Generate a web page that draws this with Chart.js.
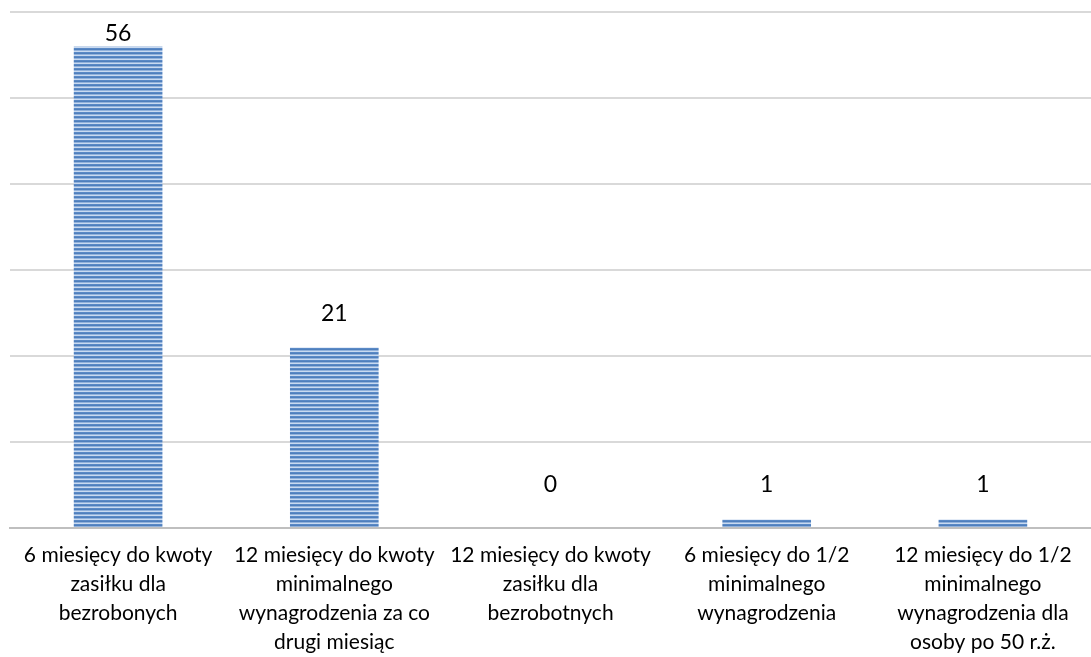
<!DOCTYPE html>
<html>
<head>
<meta charset="utf-8">
<script src="https://cdn.jsdelivr.net/npm/chart.js@4/dist/chart.umd.min.js"></script>
<style>
  html, body { margin: 0; padding: 0; background: #fff; }
  #wrap { width: 1091px; height: 657px; }
</style>
</head>
<body>
<div id="wrap"><canvas id="grafica"></canvas></div>
<script>
// categorias (etiquetas partidas en lineas como en el original)
const kategorie = [
  ["6 miesięcy do kwoty", "zasiłku dla", "bezrobonych"],
  ["12 miesięcy do kwoty", "minimalnego", "wynagrodzenia za co", "drugi miesiąc"],
  ["12 miesięcy do kwoty", "zasiłku dla", "bezrobotnych"],
  ["6 miesięcy do 1/2", "minimalnego", "wynagrodzenia"],
  ["12 miesięcy do 1/2", "minimalnego", "wynagrodzenia dla", "osoby po 50 r.ż."]
];
const wartosci = [56, 21, 0, 1, 1];
const osY = { min: 0, max: 60, step: 10 };

// desplazamiento vertical de cada etiqueta de dato (px sobre la barra)
const offsetEtiquetas = [13, 34, 43, 35, 35];

// patron de rayas horizontales para las barras
function rayas() {
  const c = document.createElement("canvas");
  c.width = 4;
  c.height = 4;
  const g = c.getContext("2d");
  const colores = ["#5a89c6", "#4f7fbc", "#92b2dc", "#c9daf0"];
  colores.forEach((col, i) => {
    g.fillStyle = col;
    g.fillRect(0, i, 4, 1);
  });
  return g.createPattern(c, "repeat");
}

const ctx = document.getElementById("grafica").getContext("2d");

const etiquetasPlugin = {
  id: "etiquetas",
  afterDatasetsDraw(chart) {
    const meta = chart.getDatasetMeta(0);
    const c = chart.ctx;
    c.save();
    c.font = "23px Lato";
    c.fillStyle = "#000";
    c.textAlign = "center";
    c.textBaseline = "middle";
    meta.data.forEach((bar, i) => {
      c.fillText(String(wartosci[i]), bar.x, bar.y - offsetEtiquetas[i]);
    });
    c.restore();
  },
};

new Chart(ctx, {
  type: "bar",
  data: {
    labels: kategorie,
    datasets: [
      {
        label: "Liczba",
        data: wartosci,
        backgroundColor: rayas(),
        borderWidth: 0,
        categoryPercentage: 1,
        barPercentage: 0.41,
      },
    ],
  },
  options: {
    responsive: true,
    maintainAspectRatio: false,
    animation: false,
    layout: { padding: { left: 10, right: 0, top: 12, bottom: -5 } },
    plugins: {
      legend: { display: false },
      tooltip: { enabled: false },
    },
    scales: {
      x: {
        grid: { display: false },
        border: { display: true, color: "#bfbfbf", width: 2 },
        ticks: {
          color: "#000",
          font: { family: "Lato", size: 21, lineHeight: "29px" },
          padding: 5,
          maxRotation: 0,
          minRotation: 0,
          autoSkip: false,
        },
      },
      y: {
        min: osY.min,
        max: osY.max,
        ticks: { stepSize: osY.step, display: false },
        border: { display: false },
        grid: { color: "#d9d9d9", lineWidth: 2, drawTicks: false },
      },
    },
  },
  plugins: [etiquetasPlugin],
});
</script>
</body>
</html>
